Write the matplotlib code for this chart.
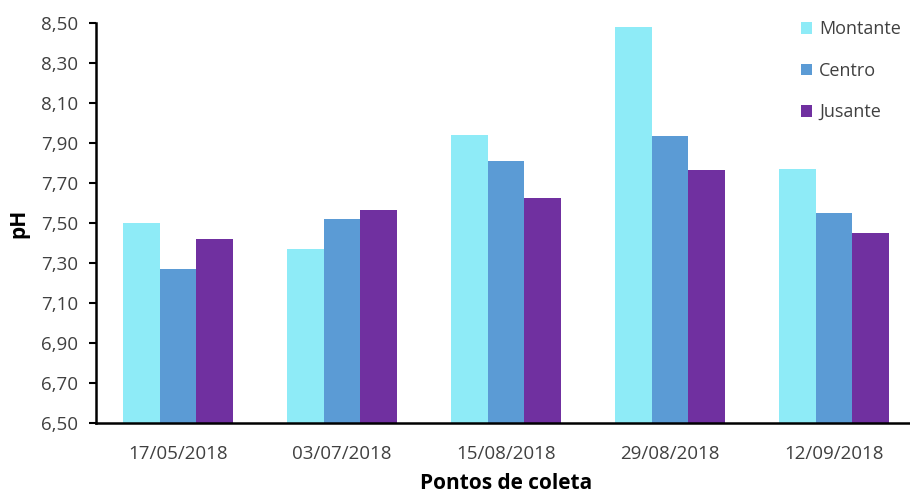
import numpy as np
import matplotlib.pyplot as plt

plt.rcParams['font.family'] = ['Open Sans', 'DejaVu Sans']

# Data
datas = ['17/05/2018', '03/07/2018', '15/08/2018', '29/08/2018', '12/09/2018']
montante = [7.50, 7.37, 7.94, 8.48, 7.77]
centro = [7.27, 7.52, 7.81, 7.935, 7.55]
jusante = [7.42, 7.565, 7.625, 7.765, 7.45]

cores = ['#8EEBF7', '#5B9BD5', '#7030A0']
bar_width = 0.225

fig = plt.figure(figsize=(9.1, 4.95), dpi=100)
ax = fig.add_axes([96 / 910, 72 / 495, 820 / 910, 400 / 495])

x = np.arange(len(datas))
ax.bar(x - bar_width, montante, width=bar_width, color=cores[0], label='Montante')
ax.bar(x, centro, width=bar_width, color=cores[1], label='Centro')
ax.bar(x + bar_width, jusante, width=bar_width, color=cores[2], label='Jusante')

ax.set_ylim(6.5, 8.5)
ax.set_xlim(-0.5, len(datas) - 0.5)
yt = np.arange(6.5, 8.51, 0.2)
ax.set_yticks(yt)
ax.set_yticklabels([f'{v:.2f}'.replace('.', ',') for v in yt], fontsize=13.5, color='#404040')
ax.set_xticks(x)
ax.set_xticklabels(datas, fontsize=13.5, color='#404040')
ax.tick_params(axis='x', length=0, pad=16)
ax.tick_params(axis='y', length=5, width=1.5, direction='out', pad=8)

for s in ['top', 'right']:
    ax.spines[s].set_visible(False)
for s in ['left', 'bottom']:
    ax.spines[s].set_linewidth(1.8)
    ax.spines[s].set_color('black')

ax.set_ylabel('pH', fontsize=15, fontweight='bold', labelpad=8)
ax.set_xlabel('Pontos de coleta', fontsize=15, fontweight='bold', labelpad=7)

leg = ax.legend(loc='upper left', bbox_to_anchor=(0.851, 1.025), frameon=False,
                fontsize=13, handlelength=0.6, handleheight=0.6, handletextpad=0.4,
                labelspacing=1.3, borderaxespad=0)
for t in leg.get_texts():
    t.set_color('#404040')

fig.savefig('out.png', dpi=100)
